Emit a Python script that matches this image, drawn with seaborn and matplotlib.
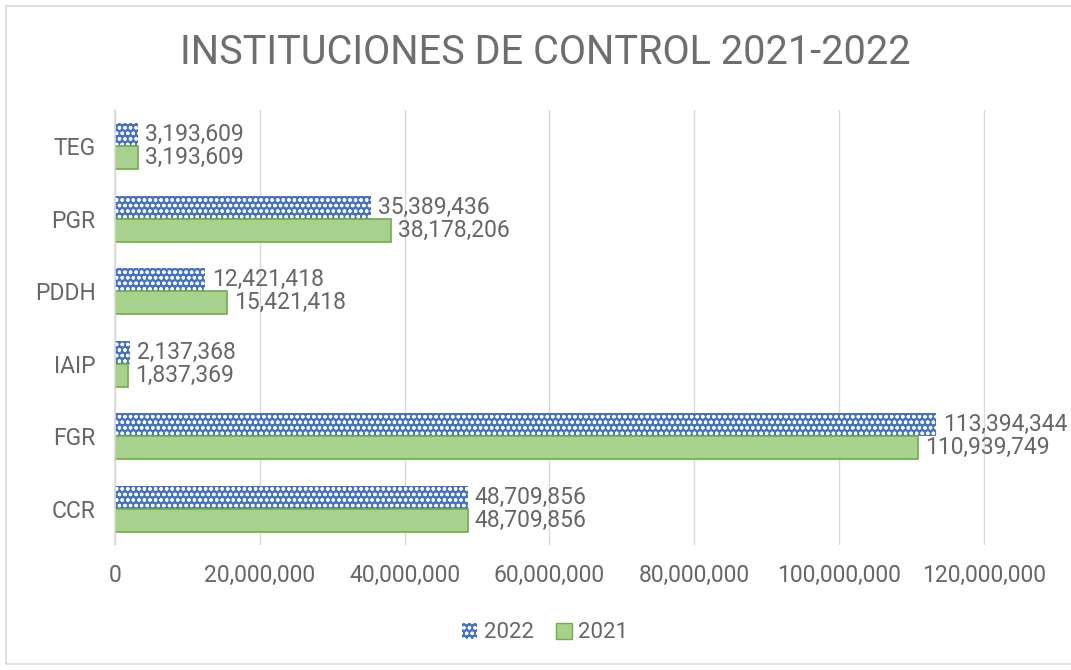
import matplotlib
matplotlib.use("Agg")
import matplotlib.pyplot as plt
import seaborn as sns
import pandas as pd
from matplotlib.patches import Rectangle, Patch
from matplotlib.ticker import FuncFormatter, MultipleLocator

categories = ["TEG", "PGR", "PDDH", "IAIP", "FGR", "CCR"]
values_2022 = [3193609, 35389436, 12421418, 2137368, 113394344, 48709856]
values_2021 = [3193609, 38178206, 15421418, 1837369, 110939749, 48709856]
years = ["2022", "2021"]

df = pd.DataFrame({
    "cat": categories * 2,
    "year": [years[0]] * len(categories) + [years[1]] * len(categories),
    "value": values_2022 + values_2021,
})

sns.set_theme(style="white")
plt.rcParams["font.family"] = ["Roboto", "DejaVu Sans"]
plt.rcParams["hatch.linewidth"] = 0.9

gray = "#666666"
title_gray = "#6e6e6e"
blue = "#4472C4"
green = "#A9D18E"
green_edge = "#70AD47"

fig = plt.figure(figsize=(10.71, 6.70), dpi=100)
ax = fig.add_axes([115 / 1071, 1 - 545 / 670, (1056 - 115) / 1071, (545 - 110) / 670])

sns.barplot(data=df, y="cat", x="value", hue="year", hue_order=years,
            order=categories, palette=[blue, green], width=0.64,
            orient="h", ax=ax, legend=False, saturation=1)

n = len(categories)
for i, p in enumerate(ax.patches[:2 * n]):
    if i < n:
        p.set_facecolor(blue)
        p.set_edgecolor("white")
        p.set_linewidth(0)
        p.set_hatch("ooo")
    else:
        p.set_facecolor(green)
        p.set_edgecolor(green_edge)
        p.set_linewidth(1.2)

for c in ax.containers:
    labels = [f"{v:,.0f}" for v in c.datavalues]
    ax.bar_label(c, labels=labels, padding=5, color=gray, fontsize=16.5)

ax.set_xlim(0, 130000000)
ax.xaxis.set_major_locator(MultipleLocator(20000000))
ax.xaxis.set_major_formatter(FuncFormatter(lambda v, _: f"{v:,.0f}"))
ax.grid(axis="x", color="#D9D9D9", linewidth=1)
ax.set_axisbelow(True)
for s in ["top", "right", "bottom"]:
    ax.spines[s].set_visible(False)
ax.spines["left"].set_color("#D9D9D9")
ax.tick_params(axis="both", colors=gray, labelsize=16.5, length=0)
ax.tick_params(axis="x", pad=14)
ax.tick_params(axis="y", pad=14)
ax.set_xlabel("")
ax.set_ylabel("")

fig.text(545 / 1071, 1 - 52 / 670, "INSTITUCIONES DE CONTROL 2021-2022",
         ha="center", va="center", fontsize=28.5, color=title_gray)

handles = [Patch(facecolor=blue, edgecolor="white", hatch="ooo", linewidth=0, label="2022"),
           Patch(facecolor=green, edgecolor=green_edge, label="2021")]
fig.legend(handles=handles, loc="center", bbox_to_anchor=(545 / 1071, 1 - 633 / 670),
           ncol=2, frameon=False, fontsize=16, labelcolor=gray,
           handlelength=0.7, handleheight=0.7, handletextpad=0.3, columnspacing=1.0)

fig.patches.append(Rectangle((6 / 1071, 6 / 670), 1.0, 1 - 12 / 670,
                             transform=fig.transFigure, fill=False,
                             edgecolor="#D9D9D9", linewidth=1.2))

fig.savefig("out.png", dpi=100)
